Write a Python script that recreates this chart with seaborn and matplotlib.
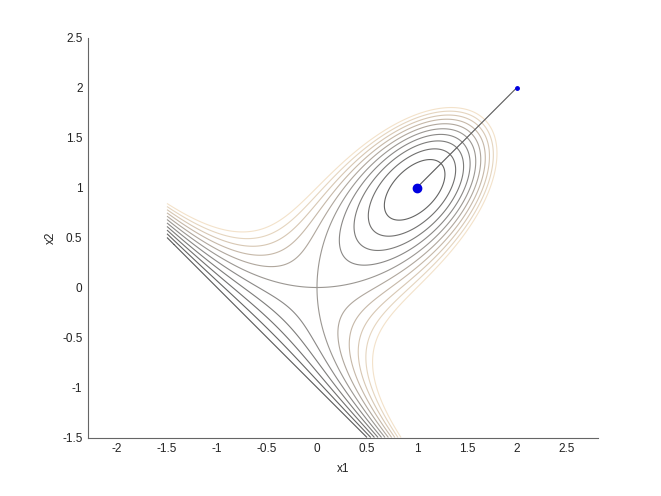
import numpy as np
import pandas as pd
import seaborn as sns
import matplotlib
matplotlib.use("Agg")
import matplotlib.pyplot as plt
from matplotlib.colors import LinearSegmentedColormap

# objective f(x1, x2) = a*x1^3 + b*x2^3 + c*x1*x2 (saddle at 0,0 and minimum at 1,1)
coef_cubic_x1 = 1.0
coef_cubic_x2 = 1.0
coef_cross = -3.0

grid_x1 = [-1.5, 2.5]
grid_x2 = [-1.5, 2.5]
contour_levels = [-1.0, -0.8, -0.6, -0.4, -0.2, 0.0, 0.2, 0.4, 0.6, 0.8, 1.0]

# search path from the start point to the minimiser
path_x1 = [2.0, 1.0]
path_x2 = [2.0, 1.0]

x_ticks = [-2, -1.5, -1, -0.5, 0, 0.5, 1, 1.5, 2, 2.5]
y_ticks = [-1.5, -1, -0.5, 0, 0.5, 1, 1.5, 2, 2.5]

sns.set_style("white")
plt.rcParams['font.family'] = ['Liberation Sans', 'DejaVu Sans']

fig = plt.figure(figsize=(6.61, 4.96), dpi=100)
ax = fig.add_axes([88 / 661, 58.5 / 496, 510 / 661, 400 / 496])

x1 = np.linspace(grid_x1[0], grid_x1[1], 401)
x2 = np.linspace(grid_x2[0], grid_x2[1], 401)
X1, X2 = np.meshgrid(x1, x2)
F = coef_cubic_x1 * X1 ** 3 + coef_cubic_x2 * X2 ** 3 + coef_cross * X1 * X2

cmap = LinearSegmentedColormap.from_list(
    'grey_tan', [(0.0, '#585858'), (0.45, '#908e8c'), (0.75, '#d0c0ad'), (1.0, '#f3e2ca')])
ax.contour(X1, X2, F, levels=contour_levels, cmap=cmap, linewidths=0.8)

path = pd.DataFrame({'x1': path_x1, 'x2': path_x2})
sns.lineplot(data=path, x='x1', y='x2', ax=ax, color='#5a5a5a', linewidth=0.8, sort=False)
ax.plot(path_x1[0], path_x2[0], marker='o', color='#0000e0', markersize=2.5, linestyle='none')
ax.plot(path_x1[-1], path_x2[-1], marker='o', color='#0000e0', markersize=6, linestyle='none')

ax.set_xlim(-2.29, 2.81)
ax.set_ylim(-1.5, 2.5)
ax.set_xticks(x_ticks)
ax.set_yticks(y_ticks)
ax.set_xticklabels([f'{t:g}' for t in x_ticks])
ax.set_yticklabels([f'{t:g}' for t in y_ticks])
ax.tick_params(direction='in', length=4, width=0.6, color='#666666', labelsize=8.5, labelcolor='#222222', pad=4)
ax.set_xlabel('x1', fontsize=8.5, color='#222222', labelpad=6)
ax.set_ylabel('x2', fontsize=8.5, color='#222222', labelpad=4)

for side in ['top', 'right']:
    ax.spines[side].set_visible(False)
for side in ['left', 'bottom']:
    ax.spines[side].set_color('#666666')
    ax.spines[side].set_linewidth(0.8)

fig.savefig('out.png', dpi=100)
